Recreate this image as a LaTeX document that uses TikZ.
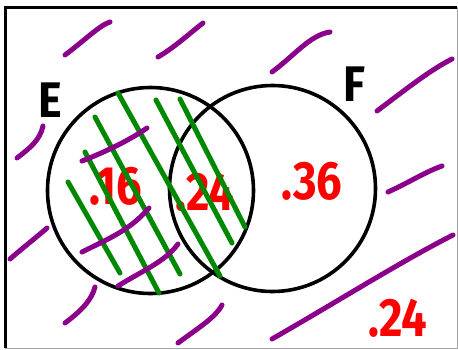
\documentclass[tikz,border=0pt]{standalone}
\usepackage{fontspec}
\setmainfont{Fira Sans}
\definecolor{pur}{RGB}{139,0,139}
\definecolor{grn}{RGB}{0,136,0}
\definecolor{rd}{RGB}{255,0,0}
\tikzset{
  pline/.style={draw=pur,line width=5pt,line cap=round},
  gline/.style={draw=grn,line width=5pt,line cap=round},
  circ/.style={draw=black,line width=3.6pt,circle,minimum size=206pt,inner sep=0pt},
  num/.style={text=rd,font=\fontsize{54}{54}\selectfont\bfseries,inner sep=0pt,xscale=0.84},
  lab/.style={text=black,font=\fontsize{50}{50}\selectfont\bfseries,inner sep=0pt,xscale=0.9}
}
\begin{document}
\begin{tikzpicture}[x=1pt,y=-1pt]
\useasboundingbox (0,0) rectangle (458,349);
\fill[white] (0,0) rectangle (458,349);
% frame
\coordinate (tl) at (5,7);
\coordinate (tr) at (457,7);
\coordinate (bl) at (5,348);
\coordinate (br) at (457,348);
\draw[gray!70,line width=1pt] (tr) -- (br) -- (bl);
\draw[black,line width=3pt] (bl) -- (tl) -- (tr);
% circles
\node[circ] (E) at (150.5,190.5) {};
\node[circ] (F) at (272.5,188.5) {};
\node[lab] (Elab) at (50,100) {E};
\node[lab] (Flab) at (354,84) {F};
% numbers
\node[num] (n1) at (116,186) {.16};
\node[num] (n2) at (205,192) {.24};
\node[num] (n3) at (312,181) {.36};
\node[num] (n4) at (398,318) {.24};
% green hatching
\coordinate (g1a) at (68,182);  \coordinate (g1b) at (120,273);
\coordinate (g2a) at (85,152);  \coordinate (g2b) at (159,293);
\coordinate (g3a) at (95,117);  \coordinate (g3b) at (180,274);
\coordinate (g4a) at (118,93);  \coordinate (g4b) at (220,276);
\coordinate (g5a) at (156,100); \coordinate (g5b) at (232,243);
\coordinate (g6a) at (180,99);  \coordinate (g6b) at (245,227);
\foreach \i in {1,...,6} \draw[gline] (g\i a) -- (g\i b);
% purple strokes
\coordinate (p1a) at (65,55);   \coordinate (p1b) at (110,22);
\coordinate (p2a) at (158,57);  \coordinate (p2b) at (203,23);
\coordinate (p3a) at (272,72);  \coordinate (p3b) at (330,32);
\coordinate (p4a) at (377,111); \coordinate (p4b) at (452,59);
\coordinate (p5a) at (17,158);  \coordinate (p5b) at (43,126);
\coordinate (p6a) at (82,161);  \coordinate (p6b) at (147,128);
\coordinate (p7a) at (388,192); \coordinate (p7b) at (442,166);
\coordinate (p8a) at (10,259);  \coordinate (p8b) at (47,228);
\coordinate (p9a) at (82,252);  \coordinate (p9b) at (149,208);
\coordinate (p10a) at (118,286); \coordinate (p10b) at (178,244);
\coordinate (p11a) at (65,323); \coordinate (p11b) at (95,287);
\coordinate (p12a) at (178,343); \coordinate (p12b) at (222,305);
\coordinate (p13a) at (272,339); \coordinate (p13b) at (453,235);
\draw[pline] (p1a) .. controls (85,40) and (100,25) .. (p1b);
\draw[pline] (p2a) .. controls (175,47) and (190,33) .. (p2b);
\draw[pline] (p3a) .. controls (295,55) and (310,35) .. (p3b);
\draw[pline] (p4a) .. controls (405,90) and (430,70) .. (p4b);
\draw[pline] (p5a) .. controls (30,148) and (40,140) .. (p5b);
\draw[pline] (p6a) .. controls (105,152) and (130,140) .. (p6b);
\draw[pline] (p7a) .. controls (410,182) and (425,172) .. (p7b);
\draw[pline] (p8a) .. controls (25,246) and (38,236) .. (p8b);
\draw[pline] (p9a) .. controls (110,238) and (130,230) .. (p9b);
\draw[pline] (p10a) .. controls (140,272) and (165,262) .. (p10b);
\draw[pline] (p11a) .. controls (85,308) and (92,298) .. (p11b);
\draw[pline] (p12a) .. controls (198,328) and (215,318) .. (p12b);
\draw[pline] (p13a) .. controls (340,300) and (400,262) .. (p13b);
\end{tikzpicture}
\end{document}
